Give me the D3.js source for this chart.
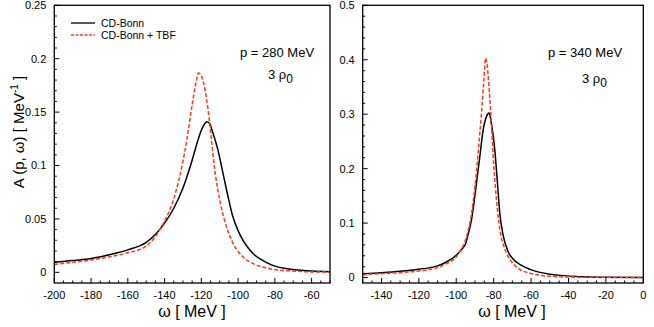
<!DOCTYPE html>
<html>
<head>
<meta charset="utf-8">
<script src="https://cdn.jsdelivr.net/npm/d3@7"></script>
<style>
  body { margin: 0; background: #fff; }
  text { font-family: "Liberation Sans", Arial, sans-serif; fill: #000; }
</style>
</head>
<body>
<svg id="chart" width="654" height="327"></svg>
<script>
// p = 280 MeV panel, omega [MeV] vs A [MeV^-1]
var omegaL_bonn = [-200, -190, -180, -170, -160, -150, -145, -140, -135, -130, -127, -125, -122, -120, -118, -117, -115.5, -114, -111, -108, -105.5, -103, -100, -97, -95, -92, -88, -85, -80, -75, -70, -60, -50];
var valL_bonn   = [0.0094, 0.011, 0.013, 0.0165, 0.021, 0.028, 0.0355, 0.046, 0.060, 0.079, 0.094, 0.105, 0.123, 0.133, 0.1395, 0.141, 0.1395, 0.132, 0.1146, 0.091, 0.071, 0.053, 0.039, 0.029, 0.024, 0.0178, 0.0125, 0.0095, 0.0058, 0.0038, 0.0026, 0.0012, 0.0006];
var omegaL_tbf  = [-200, -190, -180, -170, -160, -150, -145, -140, -137.5, -135, -132, -128, -125, -123, -121.5, -120, -118, -116.3, -114.5, -112.7, -110, -106.4, -103, -97.4, -92, -85, -78, -70, -60, -50];
var valL_tbf    = [0.0075, 0.0093, 0.0115, 0.0145, 0.0184, 0.0246, 0.0334, 0.048, 0.057, 0.069, 0.088, 0.123, 0.157, 0.177, 0.1865, 0.184, 0.171, 0.152, 0.124, 0.096, 0.068, 0.043, 0.028, 0.0146, 0.0084, 0.0042, 0.0022, 0.0012, 0.0004, 0.0002];

// p = 340 MeV panel
var omegaR_bonn = [-150, -140, -130, -120, -110, -105, -100, -97, -95, -93.6, -92, -91, -89.2, -87.4, -85.6, -83.8, -82.4, -81.2, -79.4, -78.1, -76.7, -75, -72.3, -69.6, -66, -60.6, -55.3, -50, -44.5, -32, -20, 0];
var valR_bonn   = [0.0072, 0.009, 0.0115, 0.0153, 0.0215, 0.029, 0.041, 0.052, 0.062, 0.08, 0.103, 0.125, 0.173, 0.222, 0.271, 0.296, 0.302, 0.283, 0.235, 0.18, 0.118, 0.079, 0.048, 0.034, 0.024, 0.015, 0.0095, 0.0062, 0.004, 0.0015, 0.0006, 0.0002];
var omegaR_tbf  = [-150, -140, -130, -120, -110, -105, -100, -98, -94.5, -91.8, -90, -88.3, -86.5, -85.2, -84.3, -83.4, -82.4, -81.2, -79.9, -78.5, -76.7, -74, -71, -66, -60.6, -55.3, -45, -30, 0];
var valR_tbf    = [0.0053, 0.0072, 0.009, 0.0121, 0.0182, 0.026, 0.038, 0.048, 0.075, 0.118, 0.167, 0.229, 0.302, 0.363, 0.403, 0.388, 0.345, 0.284, 0.204, 0.143, 0.088, 0.052, 0.032, 0.015, 0.008, 0.0042, 0.0015, 0.0005, 0.0002];

var legendLabels = ["CD-Bonn", "CD-Bonn + TBF"];

var svg = d3.select("#chart");

function zip(xs, ys) { return xs.map(function(x, i) { return [x, ys[i]]; }); }

function panel(opt) {
  var x = d3.scaleLinear().domain(opt.xDomain).range([opt.left, opt.right]);
  var y = d3.scaleLinear().domain(opt.yDomain).range([opt.bottom, opt.top]);
  var g = svg.append("g");

  // minor + major ticks, pointing inwards
  var xMinor = d3.range(opt.xDomain[0], opt.xDomain[1] + 0.001, 5);
  var yMinor = d3.range(0, opt.yDomain[1] + 1e-9, opt.yMinor);
  g.selectAll(".xt").data(xMinor).enter().append("line")
    .attr("x1", function(d) { return x(d); }).attr("x2", function(d) { return x(d); })
    .attr("y1", opt.bottom).attr("y2", function(d) { return Math.abs(d % 20) < 1e-6 ? opt.bottom - 5 : opt.bottom - 2.5; })
    .attr("stroke", "#000").attr("stroke-width", 1);
  g.selectAll(".yt").data(yMinor).enter().append("line")
    .attr("y1", function(d) { return y(d); }).attr("y2", function(d) { return y(d); })
    .attr("x1", opt.left).attr("x2", function(d) {
      var r = d / opt.yMajor; return Math.abs(r - Math.round(r)) < 1e-6 ? opt.left + 5 : opt.left + 2.5; })
    .attr("stroke", "#000").attr("stroke-width", 1);

  g.selectAll(".xl").data(opt.xTicks).enter().append("text")
    .attr("x", function(d) { return x(d); }).attr("y", opt.bottom + 16)
    .attr("text-anchor", "middle").style("font-size", "11px").text(function(d) { return d; });
  g.selectAll(".yl").data(opt.yTicks).enter().append("text")
    .attr("x", opt.left - 8).attr("y", function(d) { return y(d); }).attr("dy", "0.35em")
    .attr("text-anchor", "end").style("font-size", "11px").text(function(d) { return d; });

  var line = d3.line().x(function(d) { return x(d[0]); }).y(function(d) { return y(d[1]); })
    .curve(d3.curveMonotoneX);

  var clipId = "clip" + opt.id;
  svg.append("clipPath").attr("id", clipId).append("rect")
    .attr("x", opt.left).attr("y", opt.top).attr("width", opt.right - opt.left).attr("height", opt.bottom - opt.top);
  var cg = g.append("g").attr("clip-path", "url(#" + clipId + ")");
  cg.append("path").datum(opt.bonn).attr("d", line)
    .attr("fill", "none").attr("stroke", "#000").attr("stroke-width", 1.5);
  cg.append("path").datum(opt.tbf).attr("d", line)
    .attr("fill", "none").attr("stroke", "#ff3a1a").attr("stroke-width", 1.5).attr("stroke-dasharray", "4,2");

  g.append("rect").attr("x", opt.left).attr("y", opt.top)
    .attr("width", opt.right - opt.left).attr("height", opt.bottom - opt.top)
    .attr("fill", "none").attr("stroke", "#000").attr("stroke-width", 1.3);

  g.append("text").attr("x", opt.titleX).attr("y", 317)
    .attr("text-anchor", "middle").style("font-size", "16px").text("\u03c9 [ MeV ]");

  g.append("text").attr("x", opt.annX).attr("y", 57).style("font-size", "13px").text(opt.ann);
  var rho = g.append("text").attr("x", opt.rhoX).attr("y", opt.rhoY).style("font-size", "13px");
  rho.append("tspan").text("3 \u03c1");
  rho.append("tspan").attr("dy", 4).style("font-size", "12px").text("0");
  return { x: x, y: y };
}

panel({
  id: "L", left: 54.3, right: 330, top: 5.3, bottom: 283,
  xDomain: [-200, -50], yDomain: [-0.01, 0.25], yMajor: 0.05, yMinor: 0.01,
  xTicks: [-200, -180, -160, -140, -120, -100, -80, -60],
  yTicks: [0, 0.05, 0.1, 0.15, 0.2, 0.25],
  bonn: zip(omegaL_bonn, valL_bonn), tbf: zip(omegaL_tbf, valL_tbf),
  ann: "p = 280 MeV", annX: 240, rhoX: 268, rhoY: 79, titleX: 192
});

panel({
  id: "R", left: 362.7, right: 643.3, top: 5.3, bottom: 283,
  xDomain: [-150, 0], yDomain: [-0.01, 0.5], yMajor: 0.1, yMinor: 0.02,
  xTicks: [-140, -120, -100, -80, -60, -40, -20, 0],
  yTicks: [0, 0.1, 0.2, 0.3, 0.4, 0.5],
  bonn: zip(omegaR_bonn, valR_bonn), tbf: zip(omegaR_tbf, valR_tbf),
  ann: "p = 340 MeV", annX: 548, rhoX: 582, rhoY: 83, titleX: 512
});

// y axis title
svg.append("text").attr("transform", "translate(24,132) rotate(-90)")
  .attr("text-anchor", "middle").style("font-size", "15px")
  .call(function(t) {
    t.append("tspan").text("A (p, \u03c9) [ MeV");
    t.append("tspan").attr("dy", -6).style("font-size", "10px").text("-1");
    t.append("tspan").attr("dy", 6).text(" ]");
  });

// legend
var legColors = ["#000", "#ff3a1a"];
var leg = svg.append("g");
legendLabels.forEach(function(lab, i) {
  var yy = 23 + i * 12;
  leg.append("line").attr("x1", 71).attr("x2", 95).attr("y1", yy).attr("y2", yy)
    .attr("stroke", legColors[i]).attr("stroke-width", 1.3)
    .attr("stroke-dasharray", i ? "3,1.5" : null);
  leg.append("text").attr("x", 101).attr("y", yy).attr("dy", "0.35em")
    .style("font-size", "10.5px").text(lab);
});
</script>
</body>
</html>
